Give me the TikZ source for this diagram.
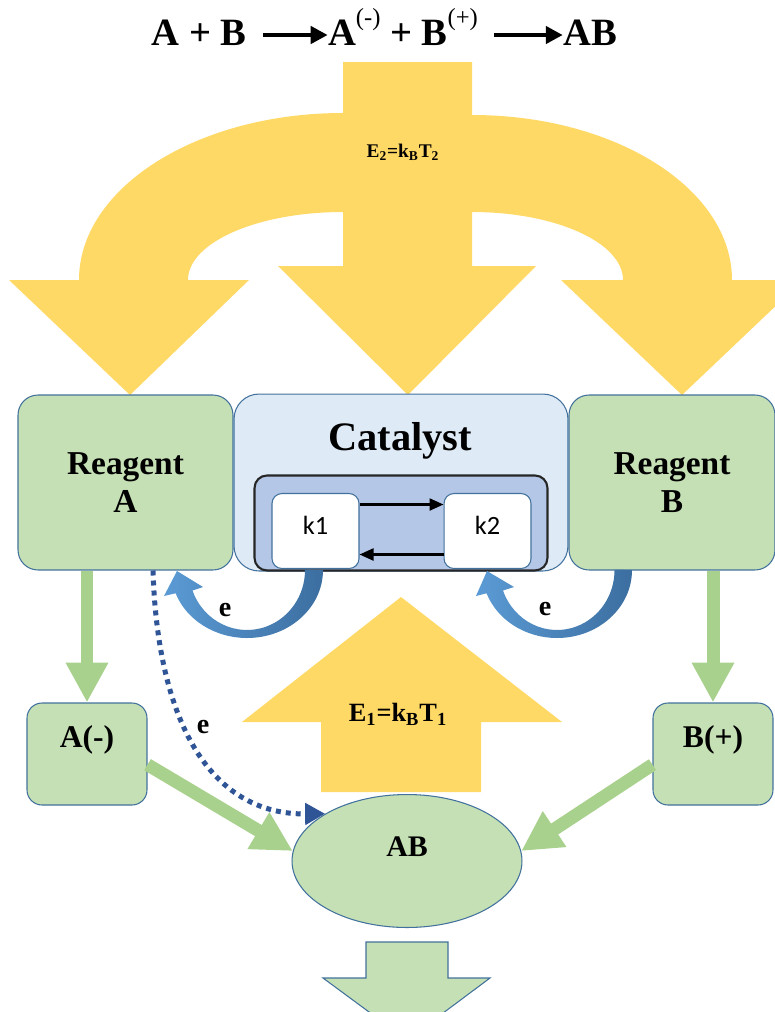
\documentclass[tikz,border=0pt]{standalone}
\usepackage{fontspec}
\setmainfont{Liberation Serif}
\newfontfamily\calibri{Carlito}
\usepackage{xcolor}
\usepackage{tikz}
\usetikzlibrary{arrows.meta,positioning,shapes.geometric}

\definecolor{boxgreen}{HTML}{C5E0B4}
\definecolor{arrgreen}{HTML}{A9D18E}
\definecolor{edgeblue}{HTML}{41719C}
\definecolor{catblue}{HTML}{DEEBF7}
\definecolor{innerblue}{HTML}{B4C7E7}
\definecolor{gold}{HTML}{FFD966}
\definecolor{elight}{HTML}{5B9BD5}
\definecolor{edark}{HTML}{3C6EA0}
\definecolor{dotblue}{HTML}{2F5597}

\newcommand{\ionsup}[1]{\raisebox{0.5em}{\mdseries\fontsize{14}{14}\selectfont #1}}

\begin{document}
\begin{tikzpicture}[
  x=0.02cm, y=-0.02cm,
  greenbox/.style={rectangle, draw=edgeblue, line width=0.6pt, fill=boxgreen, rounded corners=0.4cm, align=center, inner sep=0pt, font=\bfseries\fontsize{19}{22}\selectfont},
  ionbox/.style={greenbox, rounded corners=0.3cm, minimum width=2.4cm, minimum height=2.04cm, text height=12pt, text depth=19pt, font=\bfseries\fontsize{18}{22}\selectfont},
  catbox/.style={rectangle, draw=edgeblue, line width=0.6pt, fill=catblue, rounded corners=0.5cm, minimum width=6.68cm, minimum height=3.54cm},
  loopbox/.style={rectangle, draw=black!85, line width=1.2pt, fill=innerblue, rounded corners=0.25cm, minimum width=5.86cm, minimum height=1.9cm},
  kbox/.style={rectangle, draw=edgeblue, line width=0.6pt, fill=white, rounded corners=0.2cm, minimum width=1.74cm, minimum height=1.5cm, text depth=0.24cm, font=\calibri\fontsize{15}{18}\selectfont},
  prodnode/.style={ellipse, draw=edgeblue, line width=0.6pt, fill=boxgreen, minimum width=4.6cm, minimum height=2.66cm, inner sep=0pt, text height=12pt, text depth=16.6pt, font=\bfseries\fontsize{17}{20}\selectfont},
  karr/.style={-{Triangle[width=0.24cm,length=0.28cm]}, line width=1.3pt},
  grarr/.style={-{Triangle[width=0.8cm,length=0.8cm]}, draw=arrgreen, line width=0.26cm},
  dotarr/.style={-{Triangle[width=0.42cm,length=0.4cm]}, draw=dotblue, line width=0.1cm, dash pattern=on 0.1cm off 0.1cm},
  eqarr/.style={-{Triangle[width=0.34cm,length=0.34cm]}, line width=2.7pt, shorten <=0.32cm},
  eq/.style={inner sep=0pt, anchor=base, font=\bfseries\fontsize{22}{26}\selectfont},
  elabel/.style={font=\bfseries\fontsize{16}{19}\selectfont},
  energy/.style={font=\bfseries\fontsize{15}{18}\selectfont}
]
  \useasboundingbox (0,0) rectangle (775,1012);
  \clip (0,0) rectangle (775,1012);

  % reaction line
  \node[eq] (eq1) at (199,45) {A + B};
  \node[eq] (eq2) at (403,45) {A\ionsup{(-)} + B\ionsup{(+)}};
  \node[eq] (eq3) at (590,45) {AB};
  \draw[eqarr] ([yshift=0.2cm]eq1.base east) -- ([yshift=0.2cm]eq2.base west);
  \draw[eqarr] ([yshift=0.2cm]eq2.base east) -- ([yshift=0.2cm]eq3.base west);

  % heat E2 split into three
  \fill[gold] (343,62) -- (472,62) -- (472,115)
    arc[start angle=270, end angle=360, x radius=260, y radius=165]
    -- (803,280) -- (682,395) -- (561,280) -- (623,280)
    arc[start angle=0, end angle=-90, x radius=151, y radius=68]
    -- (472,266) -- (536,266) -- (408,395) -- (278,266) -- (343,266) -- (343,212)
    arc[start angle=270, end angle=180, x radius=155, y radius=68]
    -- (249,280) -- (130,395) -- (9,280) -- (79,280)
    arc[start angle=180, end angle=270, x radius=264, y radius=167] -- cycle;
  \node[font=\bfseries\fontsize{11}{13}\selectfont] (e2) at (403,152) {E\textsubscript{2}=k\textsubscript{B}T\textsubscript{2}};

  % heat E1
  \fill[gold] (321,792) -- (481,792) -- (481,722) -- (562,722) -- (401,597) -- (242,722) -- (321,722) -- cycle;
  \node[energy] (e1) at (398,714) {E\textsubscript{1}=k\textsubscript{B}T\textsubscript{1}};

  % reagents and catalyst
  \node[greenbox, minimum width=4.3cm, minimum height=3.5cm] (reagA) at (125.5,482.5) {Reagent\\A};
  \node[catbox, right=0cm of reagA] (cat) {};
  \node[greenbox, minimum width=4.12cm, minimum height=3.5cm, right=0cm of cat] (reagB) {Reagent\\B};
  \node[font=\bfseries\fontsize{23}{27}\selectfont, anchor=base] (catname) at (400,450) {Catalyst};
  \node[loopbox, anchor=south] (loop) at (cat.south) {};
  \node[kbox] (k1) at (315.5,531) {k1};
  \node[kbox, right=1.68cm of k1] (k2) {k2};
  \draw[karr] ([yshift=0.53cm]k1.east) -- ([yshift=0.53cm]k2.west);
  \draw[karr] ([yshift=-0.47cm]k2.west) -- ([yshift=-0.47cm]k1.east);

  % electron transfer
  \shade[left color=elight, right color=edark] (323,570)
    arc[start angle=0, end angle=160, x radius=76, y radius=68]
    -- (164,596) -- (177,571) -- (203,587) -- (192.5,590.5)
    arc[start angle=160, end angle=0, x radius=58, y radius=60] -- cycle;
  \shade[left color=elight, right color=edark] (632,570)
    arc[start angle=0, end angle=160, x radius=75, y radius=68]
    -- (476,596) -- (487,571) -- (514,587) -- (503,590.5)
    arc[start angle=160, end angle=0, x radius=57.5, y radius=60] -- cycle;
  \node[elabel] (eA) at (225,610) {e};
  \node[elabel] (eB) at (545,609) {e};

  % ions and product
  \node[ionbox] (aminus) at (87,754) {A(-)};
  \node[ionbox] (bplus) at (713,754) {B(+)};
  \node[prodnode] (ab) at (407,861) {AB};

  \draw[grarr] (reagA.south -| aminus) -- (aminus.north);
  \draw[grarr] (reagB.south -| bplus) -- (bplus.north);
  \draw[grarr] (aminus.-10) -- (ab.175);
  \draw[grarr] (bplus.190) -- (ab.5);

  \draw[dotarr] ([xshift=0.55cm]reagA.south) .. controls (158,730) and (215,815) .. (ab.150);
  \node[elabel] (eAB) at (203,727) {e};

  % product out
  \filldraw[fill=boxgreen, draw=edgeblue, line width=0.6pt] (366,942) -- (448,942) -- (448,978) -- (490,978) -- (407,1040) -- (323,978) -- (366,978) -- cycle;
\end{tikzpicture}
\end{document}
